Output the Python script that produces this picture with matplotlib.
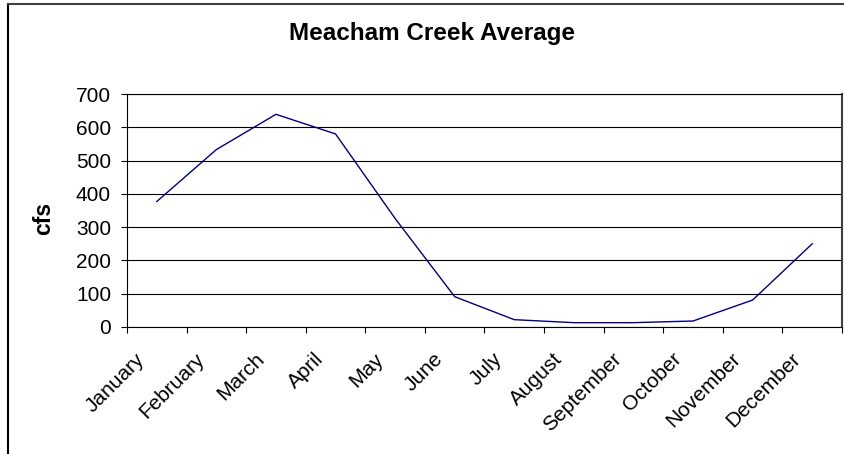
import matplotlib
matplotlib.use("Agg")
import matplotlib.pyplot as plt
from matplotlib.lines import Line2D
import numpy as np

plt.rcParams['font.family'] = ['Liberation Sans', 'DejaVu Sans']

months = ["January", "February", "March", "April", "May", "June", "July",
          "August", "September", "October", "November", "December"]
flow_cfs = [377, 533, 639, 580, 326, 91, 22, 13, 13, 18, 81, 250]
y_ticks = [0, 100, 200, 300, 400, 500, 600, 700]

fig = plt.figure(figsize=(8.45, 4.54), dpi=100)
fig.patch.set_facecolor("white")

# chart frame: left and top edges (the rest runs past the image edge)
fig.add_artist(Line2D([8.5/845, 8.5/845], [0, 1 - 3.5/454], color="black", lw=1.5,
                      transform=fig.transFigure))
fig.add_artist(Line2D([8.5/845, 1], [1 - 3.5/454, 1 - 3.5/454], color="#404040", lw=1.5,
                      transform=fig.transFigure))

ax = fig.add_axes([127/845, 1 - 327/454, (842 - 127)/845, (327 - 94)/454])
x = np.arange(len(months))
ax.plot(x, flow_cfs, color="#000080", lw=1.0)

ax.set_xlim(-0.5, len(months) - 0.5)
ax.set_ylim(0, 700)
ax.set_yticks(y_ticks)
ax.set_yticklabels([str(v) for v in y_ticks], fontsize=15)
ax.yaxis.grid(True, color="black", lw=0.8)
ax.set_axisbelow(True)

# category labels sit a little left of each category centre, rotated 45°
label_offset = 0.25
ax.set_xticks(x - label_offset)
ax.set_xticklabels(months, fontsize=15, rotation=45, ha="right",
                   rotation_mode="anchor", va="center")
ax.set_xticks(np.arange(-0.5, len(months)), minor=True)
ax.tick_params(axis="x", which="major", length=0, pad=21)
ax.tick_params(axis="x", which="minor", length=4.5, width=0.8, color="black")
ax.tick_params(axis="y", length=4.5, width=0.8, color="black", pad=7)

for s in ax.spines.values():
    s.set_color("black")
    s.set_linewidth(0.8)
ax.spines["right"].set_color("#404040")
ax.spines["right"].set_linewidth(1.5)

ax.set_ylabel("cfs", fontsize=16.5, fontweight="bold")
ax.yaxis.set_label_coords((55 - 127)/715, (327 - 218)/233)
fig.text(432.5/845, 1 - 40/454, "Meacham Creek Average", fontsize=17.5,
         fontweight="bold", ha="center", va="baseline")

fig.savefig("out.png", dpi=100)
